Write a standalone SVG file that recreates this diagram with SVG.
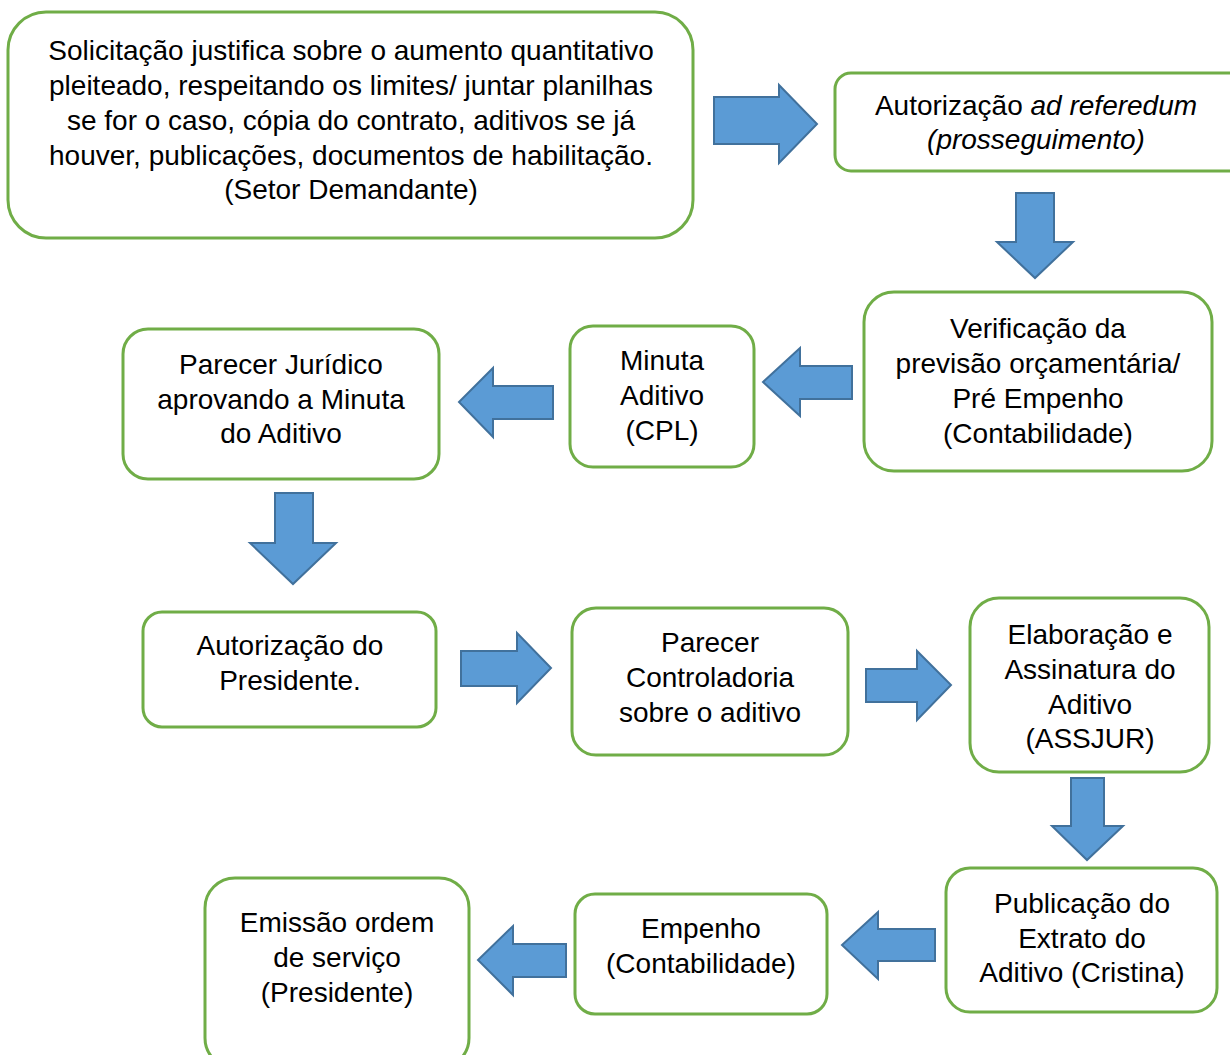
<svg xmlns="http://www.w3.org/2000/svg" width="1230" height="1055" viewBox="0 0 1230 1055">
<style>
.box{fill:#fff;stroke:#70AD47;stroke-width:3}
.arr{fill:#5B9BD5;stroke:#41719C;stroke-width:2;stroke-linejoin:miter}
text{font-family:"Liberation Sans",Arial,sans-serif;font-size:28px;fill:#000;text-anchor:middle}
.it{font-style:italic}
</style>
<rect width="1230" height="1055" fill="#fff"/>
<g id="connectors">
<polygon class="arr" points="714,97 779,97 779,85 817,124 779,163 779,144 714,144"/>
<polygon class="arr" points="1016,193 1054,193 1054,242 1073,242 1035,278 997,242 1016,242"/>
<polygon class="arr" points="852,366 800,366 800,348 763,382 800,416 800,399 852,399"/>
<polygon class="arr" points="553,386 493,386 493,368 459,402 493,437 493,419 553,419"/>
<polygon class="arr" points="275,493 313,493 313,543 336,543 293,584 250,543 275,543"/>
<polygon class="arr" points="461,651 517,651 517,633 551,668 517,703 517,686 461,686"/>
<polygon class="arr" points="866,669 917,669 917,651 951,685 917,720 917,702 866,702"/>
<polygon class="arr" points="1071,778 1104,778 1104,826 1123,826 1087,860 1052,826 1071,826"/>
<polygon class="arr" points="935,929 878,929 878,912 842,945 878,979 878,961 935,961"/>
<polygon class="arr" points="566,944 513,944 513,926 478,960 513,995 513,977 566,977"/>
</g>
<g id="n1">
<rect class="box" x="8" y="12" width="685" height="226" rx="38"/>
<text x="351" y="60">Solicitação justifica sobre o aumento quantitativo</text>
<text x="351" y="95">pleiteado, respeitando os limites/ juntar planilhas</text>
<text x="351" y="130">se for o caso, cópia do contrato, aditivos se já</text>
<text x="351" y="165">houver, publicações, documentos de habilitação.</text>
<text x="351" y="199">(Setor Demandante)</text>
</g>
<g id="n2">
<rect class="box" x="835" y="73" width="410" height="98" rx="16"/>
<text x="1036" y="115">Autorização <tspan class="it">ad referedum</tspan></text>
<text x="1036" y="149" class="it">(prosseguimento)</text>
</g>
<g id="n3">
<rect class="box" x="864" y="292" width="348" height="179" rx="30"/>
<text x="1038" y="338">Verificação da</text>
<text x="1038" y="373">previsão orçamentária/</text>
<text x="1038" y="408">Pré Empenho</text>
<text x="1038" y="443">(Contabilidade)</text>
</g>
<g id="n4">
<rect class="box" x="570" y="326" width="184" height="141" rx="23"/>
<text x="662" y="370">Minuta</text>
<text x="662" y="405">Aditivo</text>
<text x="662" y="440">(CPL)</text>
</g>
<g id="n5">
<rect class="box" x="123" y="329" width="316" height="150" rx="25"/>
<text x="281" y="374">Parecer Jurídico</text>
<text x="281" y="409">aprovando a Minuta</text>
<text x="281" y="443">do Aditivo</text>
</g>
<g id="n6">
<rect class="box" x="143" y="612" width="293" height="115" rx="19"/>
<text x="290" y="655">Autorização do</text>
<text x="290" y="690">Presidente.</text>
</g>
<g id="n7">
<rect class="box" x="572" y="608" width="276" height="147" rx="24"/>
<text x="710" y="652">Parecer</text>
<text x="710" y="687">Controladoria</text>
<text x="710" y="722">sobre o aditivo</text>
</g>
<g id="n8">
<rect class="box" x="970" y="598" width="239" height="174" rx="29"/>
<text x="1090" y="644">Elaboração e</text>
<text x="1090" y="679">Assinatura do</text>
<text x="1090" y="714">Aditivo</text>
<text x="1090" y="748">(ASSJUR)</text>
</g>
<g id="n9">
<rect class="box" x="946" y="868" width="271" height="144" rx="24"/>
<text x="1082" y="913">Publicação do</text>
<text x="1082" y="948">Extrato do</text>
<text x="1082" y="982">Aditivo (Cristina)</text>
</g>
<g id="n10">
<rect class="box" x="575" y="894" width="252" height="120" rx="20"/>
<text x="701" y="938">Empenho</text>
<text x="701" y="973">(Contabilidade)</text>
</g>
<g id="n11">
<rect class="box" x="205" y="878" width="264" height="190" rx="30"/>
<text x="337" y="932">Emissão ordem</text>
<text x="337" y="967">de serviço</text>
<text x="337" y="1002">(Presidente)</text>
</g>
</svg>
